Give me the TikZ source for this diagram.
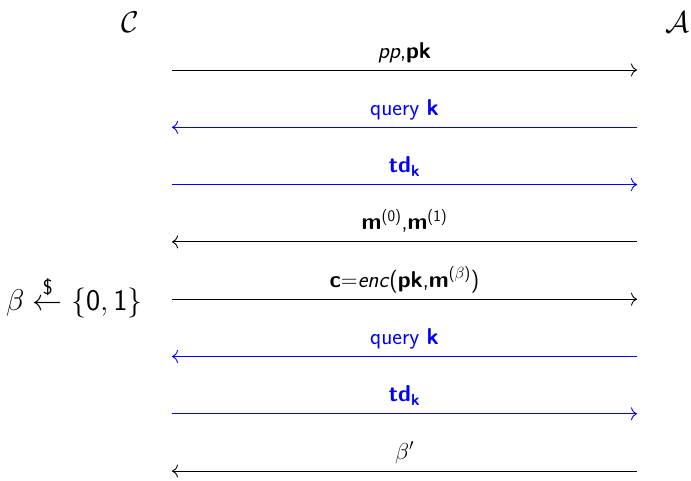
\RequirePackage{fix-cm}
\documentclass[tikz,border=0pt]{standalone}
\usepackage{amsmath}
\usetikzlibrary{arrows.meta}
\definecolor{qblue}{RGB}{0,0,255}
\tikzset{
  msg/.style={line width=0.9pt},
  rmsg/.style={msg,-{To[length=6pt,width=13pt]}},
  lmsg/.style={msg,{To[length=6pt,width=13pt]}-},
  lbl/.style={anchor=base,font=\fontsize{23}{27}\selectfont\sffamily,inner sep=0pt},
  party/.style={anchor=base,font=\fontsize{30}{34}\selectfont,inner sep=0pt},
}
\begin{document}
\begin{tikzpicture}[x=1pt,y=-1pt]
\useasboundingbox (0,0) rectangle (691,480);
\node[party] (C) at (130,32) {$\mathcal{C}$};
\node[party,anchor=base east] (A) at (690,32) {$\mathcal{A}$};
\node[party,anchor=base west] (samp) at (6,310) {$\beta \overset{\textsf{\$}}{\leftarrow} \{\mathsf{0},\mathsf{1}\}$};
% arrow endpoints
\foreach \i/\y in {1/70,2/127.3,3/184.6,4/241.9,5/299.2,6/356.5,7/413.8,8/471.1}{
  \coordinate (l\i) at (172,\y);
  \coordinate (r\i) at (637,\y);
  \coordinate (t\i) at (404.5,\y-12);
}
\draw[rmsg] (l1) -- (r1);
\node[lbl] (m1) at (t1) {\textit{pp},\textbf{pk}};
\draw[lmsg,qblue] (l2) -- (r2);
\node[lbl,text=qblue] (m2) at (t2) {query \textbf{k}};
\draw[rmsg,qblue] (l3) -- (r3);
\node[lbl,text=qblue] (m3) at (t3) {\textbf{td}$_{\textbf{\textsf{k}}}$};
\draw[lmsg] (l4) -- (r4);
\node[lbl] (m4) at (t4) {\textbf{m}\textsuperscript{(0)},\textbf{m}\textsuperscript{(1)}};
\draw[rmsg] (l5) -- (r5);
\node[lbl] (m5) at (t5) {\textbf{c}=\textit{enc}(\textbf{pk},\textbf{m}\textsuperscript{($\beta$)})};
\draw[lmsg,qblue] (l6) -- (r6);
\node[lbl,text=qblue] (m6) at (t6) {query \textbf{k}};
\draw[rmsg,qblue] (l7) -- (r7);
\node[lbl,text=qblue] (m7) at (t7) {\textbf{td}$_{\textbf{\textsf{k}}}$};
\draw[lmsg] (l8) -- (r8);
\node[lbl] (m8) at (t8) {$\beta'$};
\end{tikzpicture}
\end{document}
